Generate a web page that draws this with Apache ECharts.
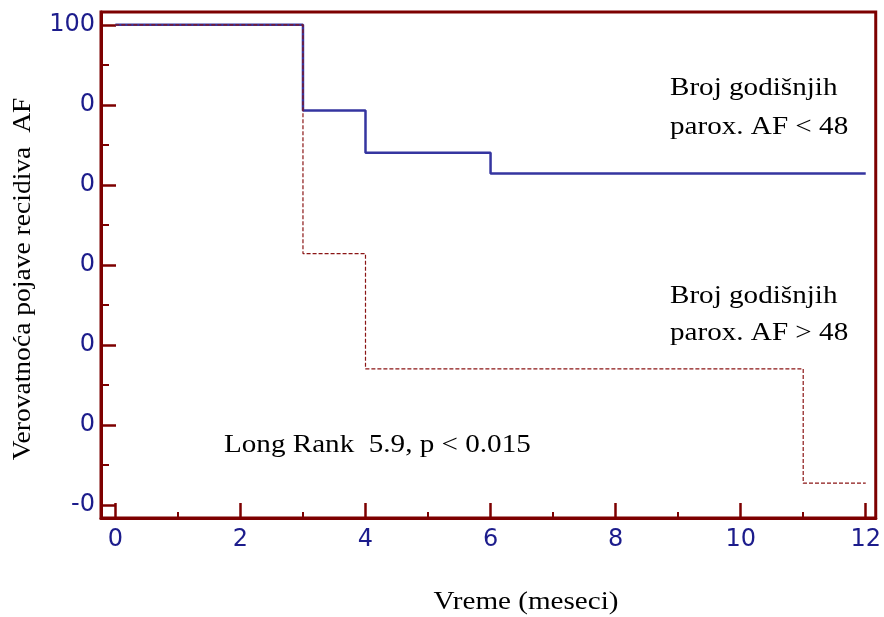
<!DOCTYPE html>
<html>
<head>
<meta charset="utf-8">
<script src="https://cdn.jsdelivr.net/npm/echarts@6/dist/echarts.min.js"></script>
<style>
  html, body { margin: 0; padding: 0; background: #fff; }
  #chart { width: 884px; height: 617px; }
</style>
</head>
<body>
<div id="chart"></div>
<script>
// Kaplan-Meier curves, values
const monthsLow = [0, 3, 4, 6, 12]
const survLow = [100, 89.3, 84.0, 81.4, 81.4]
const monthsHigh = [0, 3, 4, 11, 12]
const survHigh = [100, 71.4, 57.0, 42.7, 42.7]

const xMajor = [0, 2, 4, 6, 8, 10, 12]
const xMinor = [1, 3, 5, 7, 9, 11]
const yMajor = [40, 50, 60, 70, 80, 90, 100]
const yMinor = [45, 55, 65, 75, 85, 95]
const yTickLabels = ['-0', '0', '0', '0', '0', '0', '100']

const chart = echarts.init(document.getElementById('chart'))

const axisRed = '#7d0000'
const labelBlue = '#1c1c8c'
const serif = 'Liberation Serif'

const option = {
  animation: false,
  grid: {
    left: 101, right: 5, top: 12, bottom: 99,
    show: true, borderColor: axisRed, borderWidth: 3, backgroundColor: 'transparent'
  },
  xAxis: [
    {
      type: 'value', min: -0.23, max: 12.16, position: 'bottom',
      splitLine: { show: false },
      axisLine: { show: true, onZero: false, lineStyle: { color: axisRed, width: 3 } },
      axisTick: { inside: true, length: 15, customValues: xMajor, lineStyle: { color: axisRed, width: 2.5 } },
      axisLabel: {
        customValues: xMajor, margin: 10,
        color: labelBlue, fontFamily: 'DejaVu Sans', fontSize: 24
      }
    },
    {
      type: 'value', min: -0.23, max: 12.16, position: 'bottom',
      splitLine: { show: false },
      axisLine: { show: false, onZero: false },
      axisTick: { inside: true, length: 6, customValues: xMinor, lineStyle: { color: axisRed, width: 2 } },
      axisLabel: { show: false }
    }
  ],
  yAxis: [
    {
      type: 'value', min: 38.35, max: 101.6, position: 'left',
      splitLine: { show: false },
      axisLine: { show: true, onZero: false, lineStyle: { color: axisRed, width: 3 } },
      axisTick: { inside: true, length: 15, customValues: yMajor, lineStyle: { color: axisRed, width: 2.5 } },
      axisLabel: {
        customValues: yMajor, margin: 6,
        color: labelBlue, fontFamily: 'DejaVu Sans', fontSize: 24,
        formatter: v => yTickLabels[yMajor.indexOf(v)]
      }
    },
    {
      type: 'value', min: 38.35, max: 101.6, position: 'left',
      splitLine: { show: false },
      axisLine: { show: false, onZero: false },
      axisTick: { inside: true, length: 8, customValues: yMinor, lineStyle: { color: axisRed, width: 2 } },
      axisLabel: { show: false }
    }
  ],
  series: [
    {
      name: 'AF < 48',
      type: 'line',
      step: 'end',
      showSymbol: false,
      data: monthsLow.map((m, i) => [m, survLow[i]]),
      lineStyle: { color: '#3535a0', width: 2.5 },
      z: 3
    },
    {
      name: 'AF > 48',
      type: 'line',
      step: 'end',
      showSymbol: false,
      data: monthsHigh.map((m, i) => [m, survHigh[i]]),
      lineStyle: { color: '#8b1515', width: 1.2, type: [4, 2] },
      z: 4
    }
  ],
  graphic: [
    {
      type: 'text', x: 670, y: 88, scaleX: 1.12,
      style: { text: 'Broj godišnjih', font: `26px "${serif}"`, fill: '#000', textVerticalAlign: 'middle' }
    },
    {
      type: 'text', x: 670, y: 127, scaleX: 1.12,
      style: { text: 'parox. AF < 48', font: `26px "${serif}"`, fill: '#000', textVerticalAlign: 'middle' }
    },
    {
      type: 'text', x: 670, y: 296, scaleX: 1.12,
      style: { text: 'Broj godišnjih', font: `26px "${serif}"`, fill: '#000', textVerticalAlign: 'middle' }
    },
    {
      type: 'text', x: 670, y: 333, scaleX: 1.12,
      style: { text: 'parox. AF > 48', font: `26px "${serif}"`, fill: '#000', textVerticalAlign: 'middle' }
    },
    {
      type: 'text', x: 224, y: 445, scaleX: 1.12,
      style: { text: 'Long Rank  5.9, p < 0.015', font: `26px "${serif}"`, fill: '#000', textVerticalAlign: 'middle' }
    },
    {
      type: 'text', x: 526, y: 602, scaleX: 1.12,
      style: { text: 'Vreme (meseci)', font: `26px "${serif}"`, fill: '#000', textAlign: 'center', textVerticalAlign: 'middle' }
    },
    {
      type: 'text', x: 23, y: 279, rotation: Math.PI / 2, scaleX: 1.06,
      style: { text: 'Verovatnoća pojave recidiva  AF', font: `26px "${serif}"`, fill: '#000', textAlign: 'center', textVerticalAlign: 'middle' }
    }
  ]
}

chart.setOption(option)
</script>
</body>
</html>
